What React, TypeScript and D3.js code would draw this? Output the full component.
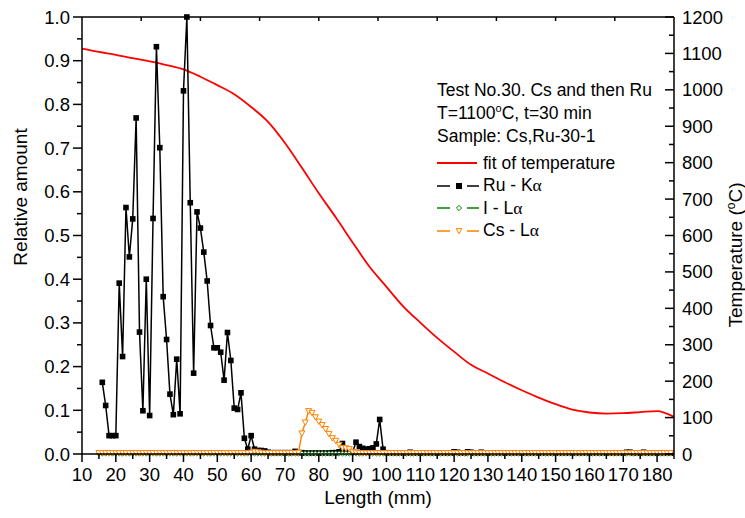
import React from "react";
import * as d3 from "d3";

// ---------- DATA ----------
const ruStart = 16;
const ruValues = [
  0.164, 0.111, 0.042, 0.042, 0.042, 0.391, 0.223, 0.564, 0.451, 0.538,
  0.769, 0.279, 0.099, 0.400, 0.088, 0.539, 0.932, 0.701, 0.360, 0.262,
  0.137, 0.090, 0.217, 0.092, 0.831, 1.000, 0.575, 0.185, 0.554, 0.517,
  0.462, 0.396, 0.294, 0.243, 0.243, 0.233, 0.169, 0.278, 0.214, 0.105,
  0.102, 0.140, 0.036, 0.011, 0.042, 0.011, 0.008, 0.008, 0.007, 0.004,
  0.003, 0.003, 0.003, 0.003, 0.003, 0.003, 0.003, 0.006, 0.003, 0.003,
  0.002, 0.002, 0.002, 0.002, 0.002, 0.002, 0.002, 0.002, 0.003, 0.003,
  0.005, 0.024, 0.010, 0.005, 0.005, 0.027, 0.017, 0.013, 0.011, 0.012,
  0.014, 0.023, 0.079, 0.011, 0.003, 0.002, 0.002, 0.002, 0.002, 0.002,
  0.002, 0.004, 0.002, 0.002, 0.002, 0.002, 0.002, 0.002, 0.002, 0.002,
  0.002, 0.002, 0.002, 0.002, 0.005, 0.004, 0.002, 0.002, 0.005, 0.004,
  0.002, 0.002, 0.004, 0.002, 0.002, 0.002, 0.002, 0.002, 0.002, 0.002,
  0.002, 0.002, 0.002, 0.002, 0.002, 0.002, 0.002, 0.002, 0.002, 0.002,
  0.002, 0.002, 0.002, 0.002, 0.002, 0.002, 0.002, 0.002, 0.002, 0.002,
  0.002, 0.002, 0.002, 0.002, 0.002, 0.002, 0.002, 0.002, 0.002, 0.002,
  0.002, 0.002, 0.002, 0.002, 0.002, 0.004, 0.004, 0.002, 0.002, 0.002,
  0.004, 0.002, 0.002, 0.002, 0.002, 0.002, 0.002, 0.002, 0.002,
];

const csStart = 15;
const csValues = [
  0.002, 0.002, 0.002, 0.002, 0.002, 0.002, 0.002, 0.002, 0.002, 0.002,
  0.002, 0.002, 0.002, 0.002, 0.002, 0.002, 0.002, 0.002, 0.002, 0.002,
  0.002, 0.002, 0.002, 0.002, 0.002, 0.002, 0.002, 0.002, 0.002, 0.002,
  0.002, 0.002, 0.002, 0.002, 0.002, 0.002, 0.002, 0.002, 0.002, 0.002,
  0.002, 0.002, 0.002, 0.002, 0.002, 0.003, 0.005, 0.004, 0.003, 0.002,
  0.002, 0.002, 0.002, 0.002, 0.002, 0.002, 0.002, 0.002, 0.002, 0.003,
  0.047, 0.072, 0.098, 0.094, 0.084, 0.074, 0.066, 0.057, 0.046, 0.036,
  0.030, 0.021, 0.014, 0.013, 0.011, 0.005, 0.003, 0.002, 0.002, 0.002,
  0.002, 0.002, 0.002, 0.002, 0.002, 0.002, 0.002, 0.002, 0.002, 0.002,
  0.002, 0.002, 0.002, 0.002, 0.002, 0.002, 0.002, 0.002, 0.002, 0.002,
  0.002, 0.002, 0.002, 0.002, 0.002, 0.002, 0.002, 0.002, 0.002, 0.002,
  0.002, 0.002, 0.002, 0.002, 0.002, 0.002, 0.002, 0.002, 0.002, 0.002,
  0.002, 0.002, 0.002, 0.002, 0.002, 0.002, 0.002, 0.002, 0.002, 0.002,
  0.002, 0.002, 0.002, 0.002, 0.002, 0.002, 0.002, 0.002, 0.002, 0.002,
  0.002, 0.002, 0.002, 0.002, 0.002, 0.002, 0.002, 0.002, 0.002, 0.002,
  0.002, 0.002, 0.002, 0.002, 0.002, 0.002, 0.002, 0.002, 0.002, 0.002,
  0.002, 0.002, 0.002, 0.002, 0.002, 0.002, 0.002, 0.002, 0.002, 0.002,
];

const iStart = 15;
const iValues = [
  0.001, 0.001, 0.001, 0.001, 0.001, 0.001, 0.001, 0.001, 0.001, 0.001,
  0.001, 0.001, 0.001, 0.001, 0.001, 0.001, 0.001, 0.001, 0.001, 0.001,
  0.001, 0.001, 0.001, 0.001, 0.001, 0.001, 0.001, 0.001, 0.001, 0.001,
  0.001, 0.001, 0.001, 0.001, 0.001, 0.001, 0.001, 0.001, 0.001, 0.001,
  0.001, 0.001, 0.001, 0.001, 0.001, 0.001, 0.001, 0.001, 0.001, 0.001,
  0.001, 0.001, 0.001, 0.001, 0.001, 0.001, 0.001, 0.001, 0.001, 0.001,
  0.001, 0.001, 0.001, 0.001, 0.001, 0.001, 0.001, 0.001, 0.001, 0.001,
  0.001, 0.001, 0.001, 0.001, 0.001, 0.001, 0.001, 0.001, 0.001, 0.001,
  0.001, 0.001, 0.001, 0.001, 0.001, 0.001, 0.001, 0.001, 0.001, 0.001,
  0.001, 0.001, 0.001, 0.001, 0.001, 0.001, 0.001, 0.001, 0.001, 0.001,
  0.001, 0.001, 0.001, 0.001, 0.001, 0.001, 0.001, 0.001, 0.001, 0.001,
  0.001, 0.001, 0.001, 0.001, 0.001, 0.001, 0.001, 0.001, 0.001, 0.001,
  0.001, 0.001, 0.001, 0.001, 0.001, 0.001, 0.001, 0.001, 0.001, 0.001,
  0.001, 0.001, 0.001, 0.001, 0.001, 0.001, 0.001, 0.001, 0.001, 0.001,
  0.001, 0.001, 0.001, 0.001, 0.001, 0.001, 0.001, 0.001, 0.001, 0.001,
  0.001, 0.001, 0.001, 0.001, 0.001, 0.001, 0.001, 0.001, 0.001, 0.001,
  0.001, 0.001, 0.001, 0.001, 0.001, 0.001, 0.001, 0.001, 0.001, 0.001,
];

const tempLength = [
  10, 15, 20, 25, 30, 35, 40, 45, 50, 55, 60, 65, 70, 75, 80, 85, 90, 95,
  100, 105, 110, 115, 120, 125, 130, 135, 140, 145, 150, 155, 160, 165, 170,
  175, 180, 185,
];
const tempValues = [
  1113, 1104, 1096, 1087, 1078, 1068, 1056, 1036, 1013, 988, 953, 912, 854,
  786, 716, 650, 581, 514, 459, 405, 361, 319, 281, 245, 221, 197, 175, 155,
  137, 122, 114, 111, 112, 115, 118, 102,
];

const xTicks = [10, 20, 30, 40, 50, 60, 70, 80, 90, 100, 110, 120, 130, 140, 150, 160, 170, 180];
const yTicks = [0, 0.1, 0.2, 0.3, 0.4, 0.5, 0.6, 0.7, 0.8, 0.9, 1.0];
const tTicks = [0, 100, 200, 300, 400, 500, 600, 700, 800, 900, 1000, 1100, 1200];

const legendInfo = ["Test No.30. Cs and then Ru", "Sample: Cs,Ru-30-1"];

// ---------- LAYOUT ----------
const W = 745;
const H = 518;
const L = 82;
const R = 674;
const T = 17;
const B = 454;
const FONT = "'Liberation Sans', Arial, sans-serif";
const SYM = "'Liberation Serif', 'DejaVu Serif', serif";
const ORANGE = "#FF8000";
const GREEN = "#008000";

export default function App() {
  const x = d3.scaleLinear().domain([10, 185]).range([L, R]);
  const y = d3.scaleLinear().domain([0, 1]).range([B, T]);
  const yT = d3.scaleLinear().domain([0, 1200]).range([B, T]);

  const ru = ruValues.map((v, i) => [ruStart + i, v] as [number, number]);
  const cs = csValues.map((v, i) => [csStart + i, v] as [number, number]);
  const io = iValues.map((v, i) => [iStart + i, v] as [number, number]);
  const temp = tempValues.map((v, i) => [tempLength[i], v] as [number, number]);

  const lineRel = d3
    .line<[number, number]>()
    .x((d) => x(d[0]))
    .y((d) => y(d[1]));
  const lineT = d3
    .line<[number, number]>()
    .x((d) => x(d[0]))
    .y((d) => yT(d[1]))
    .curve(d3.curveMonotoneX);

  const xMinor = d3.range(15, 186, 10);
  const yMinor = d3.range(0.05, 1, 0.1);
  const tMinor = d3.range(50, 1200, 100);
  const topTicks = d3.range(1, 10).map((k) => L + ((R - L) * k) / 10);

  const tri = (cx: number, cy: number, s = 3) =>
    `M${cx - s},${cy - s * 0.85}L${cx + s},${cy - s * 0.85}L${cx},${cy + s * 0.95}Z`;
  const dia = (cx: number, cy: number, s = 2.6) =>
    `M${cx},${cy - s}L${cx + s},${cy}L${cx},${cy + s}L${cx - s},${cy}Z`;

  const fs = 17.5;
  const tfs = 18.5;
  const lx = 437;

  return (
    <svg
      width={W}
      height={H}
      style={{ position: "absolute", left: 0, top: 0, background: "#fff" }}
      fontFamily={FONT}
    >
      <rect x={0} y={0} width={W} height={H} fill="#fff" />

      {/* temperature fit */}
      <path d={lineT(temp) || ""} fill="none" stroke="#FF0000" strokeWidth={1.8} />

      {/* Ru */}
      <path d={lineRel(ru) || ""} fill="none" stroke="#000" strokeWidth={1.5} />
      {ru.map((d, i) => (
        <rect key={"r" + i} x={x(d[0]) - 2.8} y={y(d[1]) - 2.8} width={5.6} height={5.6} fill="#000" />
      ))}

      {/* I */}
      <path d={lineRel(io) || ""} fill="none" stroke={GREEN} strokeWidth={1.2} />
      {io.map((d, i) => (
        <path key={"i" + i} d={dia(x(d[0]), y(d[1]))} fill="#fff" stroke={GREEN} strokeWidth={0.9} />
      ))}

      {/* Cs */}
      <path d={lineRel(cs) || ""} fill="none" stroke={ORANGE} strokeWidth={1.4} />
      {cs.map((d, i) => (
        <path key={"c" + i} d={tri(x(d[0]), y(d[1]))} fill="#fff" stroke={ORANGE} strokeWidth={1} />
      ))}

      {/* frame */}
      <line x1={L} x2={R} y1={T} y2={T} stroke="#000" strokeWidth={1.5} />
      <line x1={L} x2={R} y1={B} y2={B} stroke="#000" strokeWidth={1.5} />
      <line x1={L} x2={L} y1={T} y2={B} stroke="#000" strokeWidth={1.5} />
      <line x1={R} x2={R} y1={T} y2={B} stroke="#000" strokeWidth={1.5} />

      {/* top ticks */}
      {topTicks.map((px, i) => (
        <line key={"tt" + i} x1={px} x2={px} y1={T} y2={T + 4} stroke="#000" strokeWidth={1.5} />
      ))}

      {/* bottom axis */}
      {xTicks.map((v) => (
        <g key={"xt" + v}>
          <line x1={x(v)} x2={x(v)} y1={B} y2={B + 8} stroke="#000" strokeWidth={1.5} />
          <text x={x(v)} y={481} textAnchor="middle" fontSize={tfs} fill="#000">
            {v}
          </text>
        </g>
      ))}
      {xMinor.map((v) => (
        <line key={"xm" + v} x1={x(v)} x2={x(v)} y1={B} y2={B + 5} stroke="#000" strokeWidth={1.5} />
      ))}
      <text x={378} y={504} textAnchor="middle" fontSize={19} fill="#000">
        Length (mm)
      </text>

      {/* left axis */}
      {yTicks.map((v) => (
        <g key={"yt" + v}>
          <line x1={L - 9} x2={L} y1={y(v)} y2={y(v)} stroke="#000" strokeWidth={1.5} />
          <text x={70} y={y(v) + 6.5} textAnchor="end" fontSize={tfs} fill="#000">
            {d3.format(".1f")(v)}
          </text>
        </g>
      ))}
      {yMinor.map((v, i) => (
        <line key={"ym" + i} x1={L - 5} x2={L} y1={y(v)} y2={y(v)} stroke="#000" strokeWidth={1.5} />
      ))}
      <text
        transform={`translate(27,197) rotate(-90)`}
        textAnchor="middle"
        fontSize={19}
        fill="#000"
      >
        Relative amount
      </text>

      {/* right axis */}
      {tTicks.map((v) => (
        <g key={"rt" + v}>
          <line x1={R - 9} x2={R} y1={yT(v)} y2={yT(v)} stroke="#000" strokeWidth={1.5} />
          <text x={682} y={yT(v) + 6.5} textAnchor="start" fontSize={tfs} fill="#000">
            {v}
          </text>
        </g>
      ))}
      {tMinor.map((v) => (
        <line key={"rm" + v} x1={R - 5} x2={R} y1={yT(v)} y2={yT(v)} stroke="#000" strokeWidth={1.5} />
      ))}
      <text
        transform={`translate(742,255) rotate(-90)`}
        textAnchor="middle"
        fontSize={19}
        fill="#000"
      >
        Temperature (<tspan dy={-7} fontSize={12}>o</tspan>
        <tspan dy={7}>C)</tspan>
      </text>

      {/* legend */}
      <text x={lx} y={96} fontSize={fs} fill="#000">
        {legendInfo[0]}
      </text>
      <text x={lx} y={119} fontSize={fs} fill="#000">
        T=1100<tspan dy={-7} fontSize={11}>o</tspan>
        <tspan dy={7}>C, t=30 min</tspan>
      </text>
      <text x={lx} y={142} fontSize={fs} fill="#000">
        {legendInfo[1]}
      </text>

      <line x1={lx} x2={477} y1={163} y2={163} stroke="#FF0000" strokeWidth={1.8} />
      <text x={483} y={168.5} fontSize={fs} fill="#000">fit of temperature</text>

      <line x1={lx} x2={450} y1={186} y2={186} stroke="#000" strokeWidth={1.5} />
      <line x1={467} x2={479} y1={186} y2={186} stroke="#000" strokeWidth={1.5} />
      <rect x={456} y={183} width={6} height={6} fill="#000" />
      <text x={483} y={191} fontSize={fs} fill="#000">
        Ru - K<tspan fontFamily={SYM}>α</tspan>
      </text>

      <line x1={lx} x2={450} y1={208} y2={208} stroke={GREEN} strokeWidth={1.5} />
      <line x1={467} x2={479} y1={208} y2={208} stroke={GREEN} strokeWidth={1.5} />
      <path d={dia(459, 208)} fill="#fff" stroke={GREEN} strokeWidth={1} />
      <text x={483} y={213.5} fontSize={fs} fill="#000">
        I - L<tspan fontFamily={SYM}>α</tspan>
      </text>

      <line x1={lx} x2={450} y1={231} y2={231} stroke={ORANGE} strokeWidth={1.5} />
      <line x1={467} x2={479} y1={231} y2={231} stroke={ORANGE} strokeWidth={1.5} />
      <path d={tri(459, 231, 2.8)} fill="#fff" stroke={ORANGE} strokeWidth={1} />
      <text x={483} y={236} fontSize={fs} fill="#000">
        Cs - L<tspan fontFamily={SYM}>α</tspan>
      </text>
    </svg>
  );
}
